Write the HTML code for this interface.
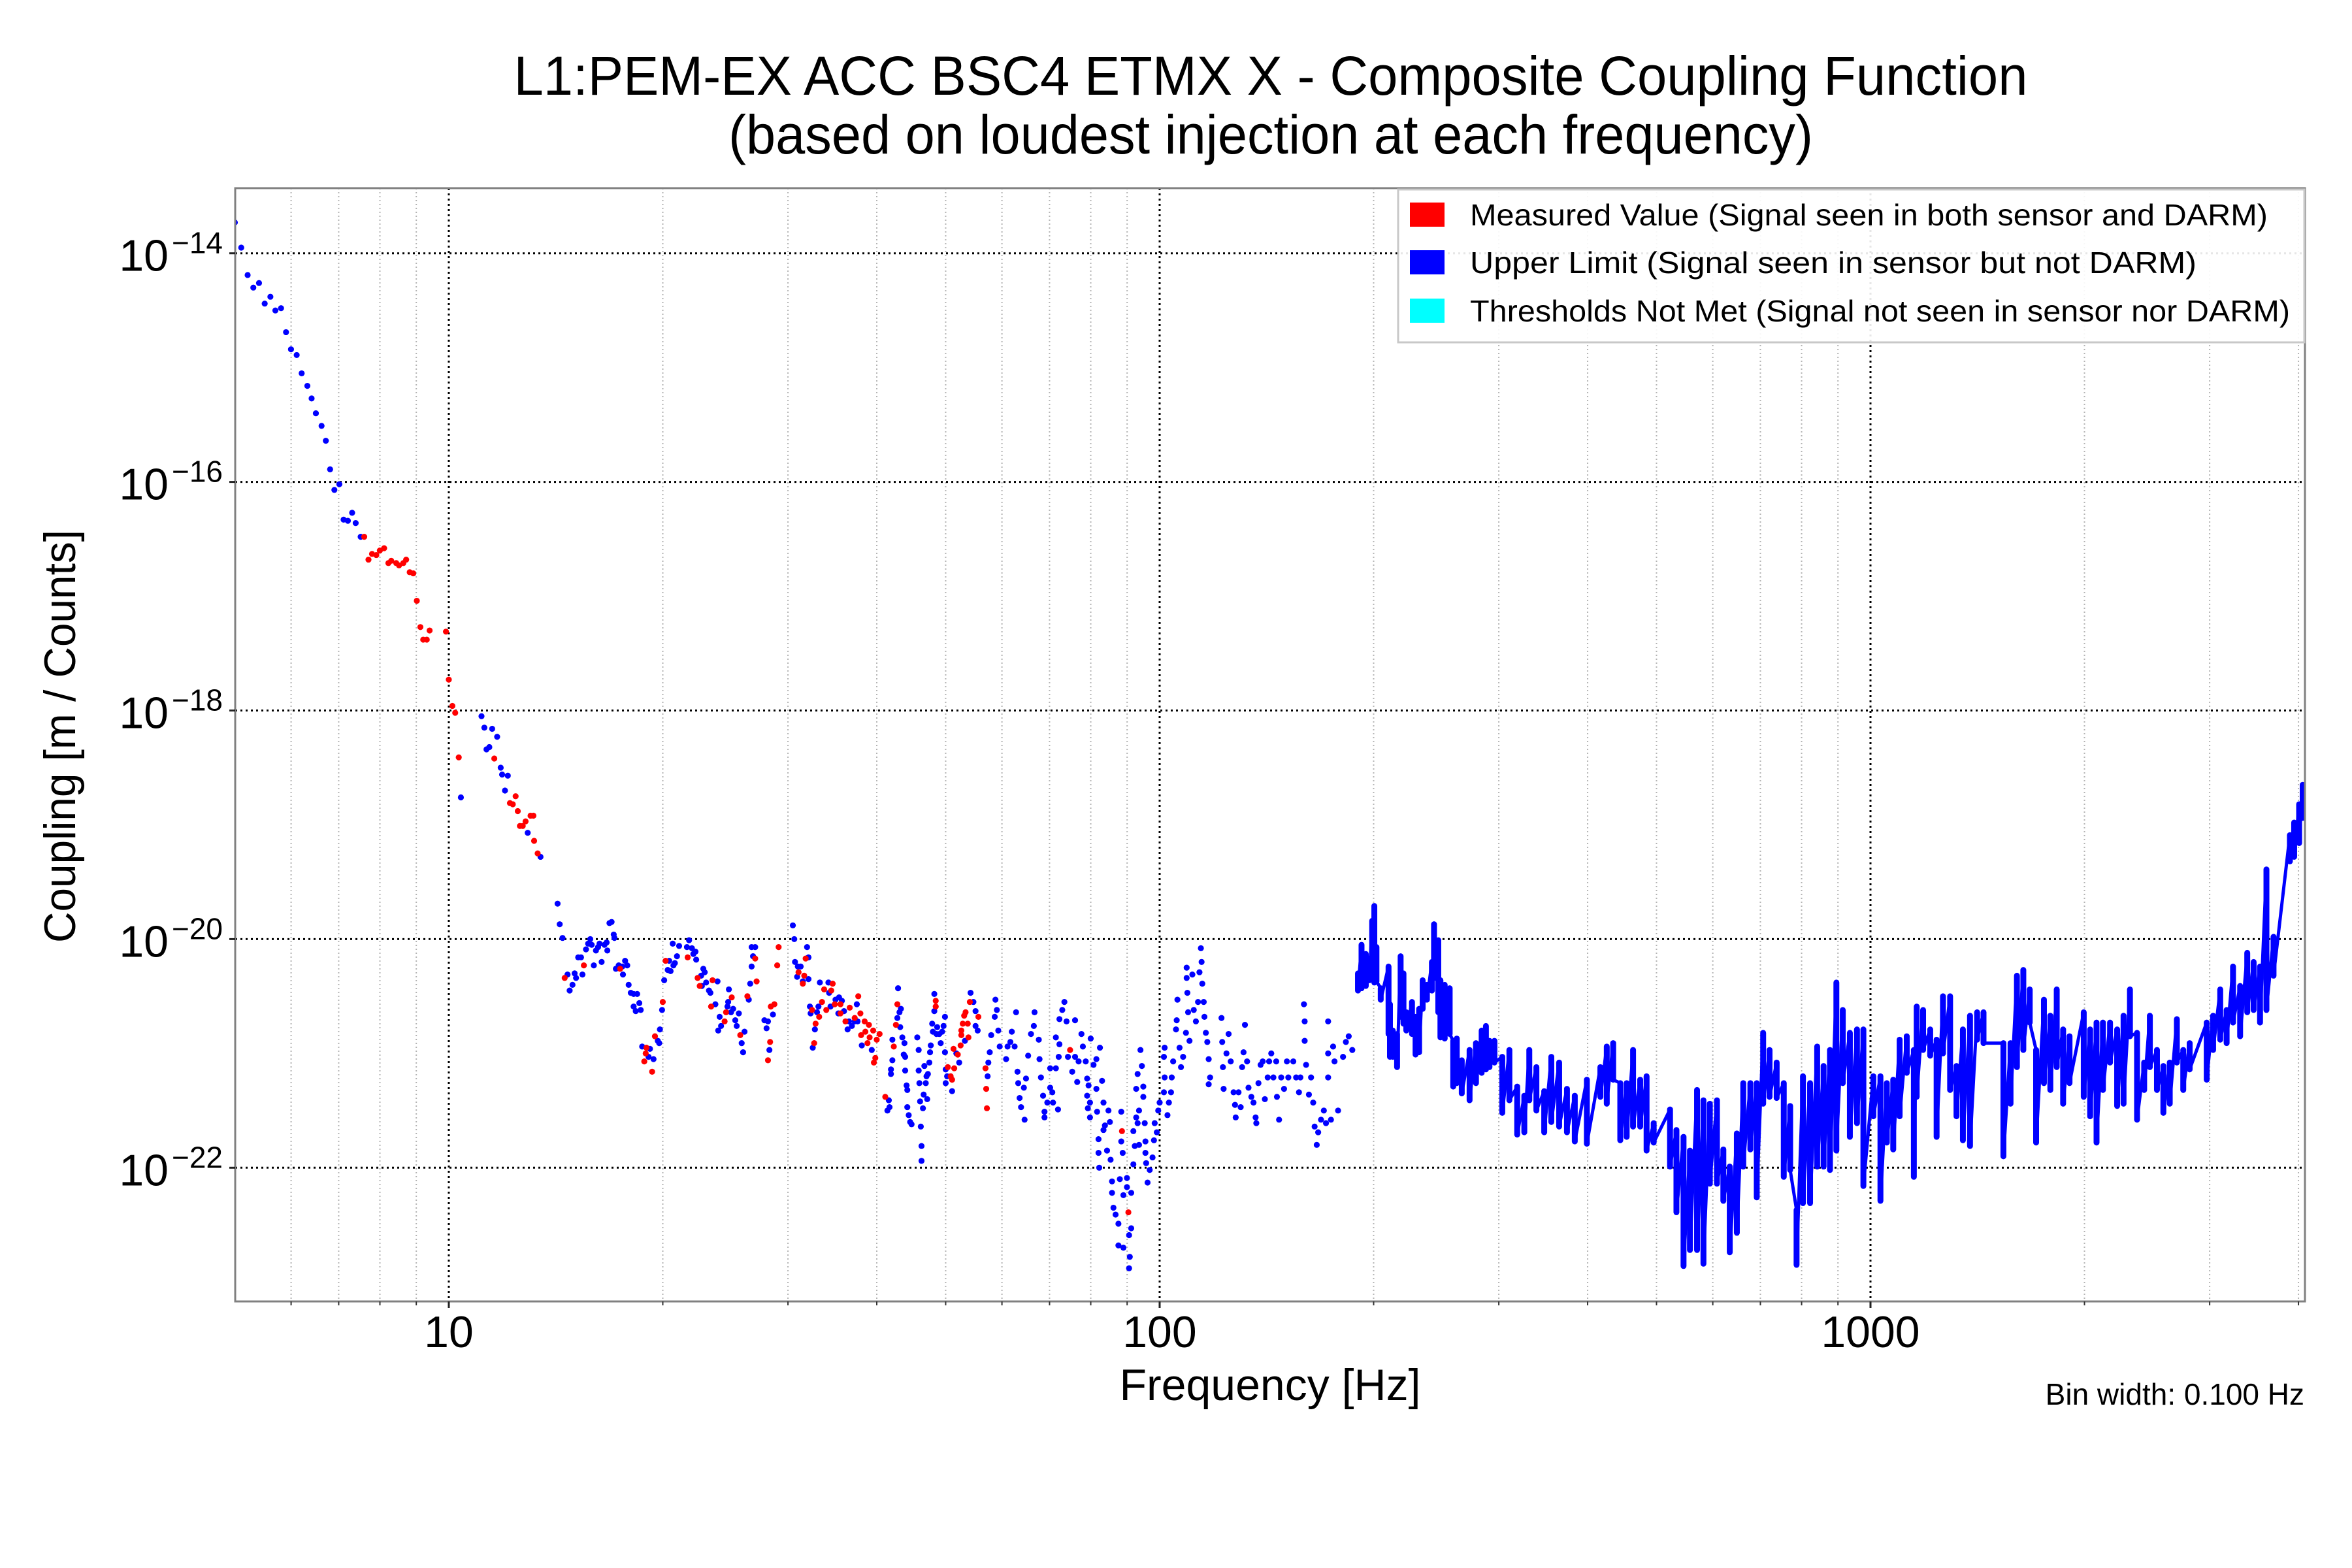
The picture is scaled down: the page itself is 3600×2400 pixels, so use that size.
<!DOCTYPE html>
<html><head><meta charset="utf-8"><style>
html,body{margin:0;padding:0;background:#fff;}
svg{display:block;font-family:"Liberation Sans",Arial,sans-serif;}
</style></head><body>
<svg id="chart" width="3600" height="2400" viewBox="0 0 3600 2400" xmlns="http://www.w3.org/2000/svg">
<rect x="0" y="0" width="3600" height="2400" fill="#fff"/>
<text x="1945" y="145" font-size="84" text-anchor="middle" textLength="2317" lengthAdjust="spacingAndGlyphs">L1:PEM-EX ACC BSC4 ETMX X - Composite Coupling Function</text>
<text x="1945" y="235" font-size="84" text-anchor="middle" textLength="1660" lengthAdjust="spacingAndGlyphs">(based on loudest injection at each frequency)</text>
<defs><clipPath id="plotclip"><rect x="360" y="288" width="3168" height="1704"/></clipPath></defs>
<g id="grid"></g>
<g id="marks" clip-path="url(#plotclip)"></g>
<rect x="360" y="288" width="3168" height="1704" fill="none" stroke="#808080" stroke-width="3"/>
<g id="ticks"></g>
<text transform="translate(115,1127) rotate(-90)" font-size="68" text-anchor="middle" textLength="632" lengthAdjust="spacingAndGlyphs">Coupling [m / Counts]</text>
<text x="1944" y="2143" font-size="68" text-anchor="middle">Frequency [Hz]</text>
<text x="3527" y="2150" font-size="46" text-anchor="end">Bin width: 0.100 Hz</text>
<g>
<rect x="2140" y="290" width="1387" height="234" fill="#fff" fill-opacity="0.9" stroke="#c8c8c8" stroke-width="3"/>
<rect x="2158" y="310" width="53" height="37" fill="#ff0000"/>
<text x="2250" y="345" font-size="46" textLength="1221" lengthAdjust="spacingAndGlyphs">Measured Value (Signal seen in both sensor and DARM)</text>
<rect x="2158" y="383" width="53" height="37" fill="#0000ff"/>
<text x="2250" y="418" font-size="46" textLength="1112" lengthAdjust="spacingAndGlyphs">Upper Limit (Signal seen in sensor but not DARM)</text>
<rect x="2158" y="457" width="53" height="37" fill="#00ffff"/>
<text x="2250" y="492" font-size="46" textLength="1255" lengthAdjust="spacingAndGlyphs">Thresholds Not Met (Signal not seen in sensor nor DARM)</text>
</g>
</svg>
<script>
// ---- data (log10 frequency [Hz], log10 coupling [m/Counts]) ----
const xTickValues = [1, 2, 3];
const xTickLabels = ["10", "100", "1000"];
const yTickValues = [-14, -16, -18, -20, -22];
const yTickLabels = ["\u221214", "\u221216", "\u221218", "\u221220", "\u221222"];
const xDomainLog = [0.6995, 3.6112];
const yDomainLog = [-13.43, -23.17];

const measuredPoints = [
[0.881,-16.48],[0.887,-16.68],[0.892,-16.63],[0.898,-16.64],[0.903,-16.60],[0.909,-16.58],[0.915,-16.71],[0.919,-16.69],[0.926,-16.71],[0.930,-16.73],[0.936,-16.71],[0.940,-16.68],[0.945,-16.79],[0.950,-16.80],[0.955,-17.04],[0.960,-17.27],[0.964,-17.38],[0.969,-17.38],[0.973,-17.30],[0.996,-17.31],[1.000,-17.73],[1.005,-17.96],[1.009,-18.02],[1.014,-18.41],[1.064,-18.42],[1.094,-18.75],[1.086,-18.81],[1.090,-18.82],[1.097,-18.88],[1.100,-19.01],[1.104,-19.01],[1.108,-18.97],[1.115,-18.92],[1.119,-18.92],[1.120,-19.14],[1.125,-19.25],
[1.163,-20.34],[1.190,-20.23],[1.241,-20.26],[1.278,-20.95],[1.277,-21.00],[1.275,-21.07],[1.286,-21.16],[1.290,-20.85],[1.301,-20.55],[1.305,-20.19],[1.336,-20.16],[1.350,-20.34],[1.353,-20.41],[1.369,-20.59],[1.371,-20.36],[1.388,-20.72],[1.390,-20.64],[1.398,-20.51],[1.410,-20.84],[1.420,-20.50],[1.431,-20.17],[1.433,-20.37],[1.452,-20.90],[1.449,-21.06],[1.453,-20.59],[1.458,-20.57],[1.462,-20.23],[1.464,-20.07],[1.492,-20.29],[1.498,-20.39],[1.500,-20.32],[1.502,-20.17],[1.511,-20.62],[1.516,-20.74],[1.514,-20.91],[1.521,-20.68],[1.525,-20.55],[1.528,-20.44],[1.540,-20.39],[1.538,-20.45],[1.531,-20.62],[1.543,-20.57],[1.551,-20.57],[1.551,-20.65],[1.558,-20.72],[1.564,-20.60],[1.571,-20.69],[1.576,-20.50],[1.579,-20.65],[1.585,-20.72],[1.586,-20.81],[1.580,-20.84],[1.591,-20.75],[1.592,-20.86],[1.589,-20.91],[1.597,-20.80],[1.600,-21.04],[1.598,-21.08],[1.602,-20.88],[1.606,-20.83],[1.614,-21.38],[1.626,-20.94],[1.629,-20.75],[1.631,-20.57],[1.685,-20.54],[1.685,-20.59],[1.702,-21.12],[1.706,-21.20],[1.708,-21.23],[1.710,-20.96],[1.711,-21.13],[1.716,-21.01],[1.720,-20.93],[1.721,-20.84],[1.721,-20.80],[1.723,-20.74],[1.725,-20.67],[1.727,-20.64],[1.730,-20.74],[1.731,-20.86],[1.733,-20.55],[1.745,-20.68],[1.755,-21.13],[1.756,-21.31],[1.757,-21.48],[1.874,-20.97],[1.947,-21.68],[1.956,-22.39]
];

const upperLimitPoints = [
[0.699,-13.73],[0.708,-13.95],[0.717,-14.19],[0.725,-14.30],[0.733,-14.26],[0.741,-14.44],[0.749,-14.38],[0.756,-14.50],[0.764,-14.48],[0.771,-14.69],[0.778,-14.84],[0.786,-14.89],[0.793,-15.05],[0.801,-15.16],[0.807,-15.27],[0.813,-15.40],[0.821,-15.51],[0.827,-15.64],[0.833,-15.89],[0.839,-16.07],[0.846,-16.02],[0.852,-16.33],[0.858,-16.34],[0.864,-16.27],[0.869,-16.36],[0.876,-16.48],
[1.017,-18.76],[1.046,-18.05],[1.050,-18.15],[1.061,-18.16],[1.053,-18.34],[1.057,-18.32],[1.068,-18.23],[1.073,-18.50],[1.075,-18.56],[1.083,-18.57],[1.079,-18.70],[1.111,-19.07],[1.129,-19.28],[1.153,-19.69],[1.156,-19.87],[1.160,-19.99],
[1.167,-20.31],[1.170,-20.45],[1.174,-20.40],[1.177,-20.30],[1.179,-20.34],[1.182,-20.16],[1.186,-20.16],[1.188,-20.31],[1.193,-20.09],[1.196,-20.04],[1.199,-20.00],[1.201,-20.05],[1.204,-20.23],[1.207,-20.10],[1.210,-20.07],[1.212,-20.04],[1.215,-20.20],[1.219,-20.05],[1.222,-20.03],[1.223,-20.10],[1.226,-19.86],[1.229,-19.85],[1.232,-19.96],[1.233,-19.99],[1.235,-20.26],[1.239,-20.23],[1.244,-20.24],[1.245,-20.31],[1.248,-20.19],[1.251,-20.23],[1.253,-20.40],[1.256,-20.47],[1.260,-20.48],[1.265,-20.48],[1.268,-20.56],[1.260,-20.59],[1.263,-20.63],[1.270,-20.62],[1.272,-20.94],[1.281,-21.03],[1.283,-20.96],[1.288,-21.05],[1.294,-20.89],[1.296,-20.91],[1.297,-20.79],[1.300,-20.62],[1.303,-20.36],[1.308,-20.27],[1.312,-20.28],[1.310,-20.19],[1.315,-20.04],[1.316,-20.23],[1.318,-20.21],[1.321,-20.15],[1.324,-20.06],[1.335,-20.07],[1.338,-20.01],[1.342,-20.08],[1.344,-20.13],[1.347,-20.11],[1.348,-20.18],[1.355,-20.32],[1.356,-20.41],[1.358,-20.26],[1.360,-20.29],[1.362,-20.38],[1.366,-20.45],[1.368,-20.47],[1.375,-20.57],[1.378,-20.37],[1.381,-20.68],[1.383,-20.76],[1.379,-20.80],[1.392,-20.59],[1.393,-20.55],[1.394,-20.44],[1.397,-20.64],[1.400,-20.61],[1.403,-20.71],[1.405,-20.76],[1.408,-20.65],[1.412,-20.91],[1.414,-20.99],[1.416,-20.81],[1.422,-20.53],[1.424,-20.39],[1.426,-20.24],[1.426,-20.07],[1.431,-20.07],[1.428,-20.15],[1.444,-20.71],[1.447,-20.78],[1.449,-20.72],[1.451,-20.97],[1.456,-20.66],
[1.484,-19.88],[1.486,-20.00],[1.487,-20.20],[1.490,-20.33],[1.491,-20.24],[1.495,-20.24],[1.498,-20.37],[1.504,-20.07],[1.506,-20.16],[1.506,-20.35],[1.508,-20.59],[1.509,-20.65],[1.515,-20.79],[1.512,-20.95],[1.518,-20.64],[1.520,-20.59],[1.522,-20.38],[1.534,-20.38],[1.535,-20.47],[1.537,-20.59],[1.544,-20.53],[1.549,-20.51],[1.553,-20.54],[1.548,-20.65],[1.556,-20.63],[1.561,-20.79],[1.563,-20.72],[1.567,-20.76],[1.571,-20.72],[1.574,-20.57],[1.575,-20.72],[1.581,-20.93],[1.595,-20.97],[1.619,-21.41],[1.617,-21.50],[1.620,-21.47],[1.622,-21.14],[1.622,-21.18],[1.624,-20.88],[1.624,-21.06],[1.631,-20.69],[1.632,-20.43],[1.634,-20.64],[1.636,-20.61],[1.635,-20.77],[1.638,-20.86],[1.641,-20.91],[1.640,-21.01],[1.642,-21.03],[1.642,-21.15],[1.644,-21.28],[1.645,-21.32],[1.645,-21.47],[1.647,-21.54],[1.649,-21.60],[1.651,-21.62],[1.659,-20.86],[1.661,-20.97],[1.661,-21.15],[1.662,-21.26],[1.663,-21.42],[1.664,-21.64],[1.665,-21.81],[1.665,-21.94],[1.667,-21.48],[1.668,-21.36],[1.669,-21.11],[1.671,-21.26],[1.672,-21.20],[1.673,-21.40],[1.674,-21.18],[1.676,-21.08],[1.677,-20.99],[1.678,-20.93],[1.680,-20.74],[1.681,-20.81],[1.683,-20.63],[1.683,-20.48],[1.686,-20.83],[1.687,-20.77],[1.690,-20.83],[1.692,-20.91],[1.694,-20.81],[1.696,-20.76],[1.698,-20.68],[1.698,-20.99],[1.699,-21.14],[1.699,-21.26],[1.701,-21.20],[1.708,-21.33],[1.714,-21.00],[1.718,-21.08],[1.726,-20.89],[1.734,-20.47],[1.738,-20.55],[1.741,-20.63],[1.741,-20.76],[1.744,-20.80],
[1.769,-20.53],[1.771,-20.62],[1.768,-20.68],[1.773,-20.80],[1.775,-20.94],[1.763,-20.84],[1.761,-20.99],[1.759,-21.08],[1.758,-21.20],[1.786,-20.94],[1.784,-21.05],[1.790,-20.90],[1.792,-20.81],[1.796,-20.94],[1.798,-20.64],[1.800,-21.16],[1.801,-21.26],[1.803,-21.39],[1.805,-21.47],[1.810,-21.58],[1.809,-21.30],[1.812,-21.22],[1.815,-21.02],[1.819,-20.83],[1.824,-20.64],[1.823,-20.76],[1.830,-20.88],[1.831,-21.05],[1.833,-21.21],[1.836,-21.37],[1.838,-21.51],[1.838,-21.56],[1.842,-21.43],[1.846,-21.13],[1.846,-21.30],[1.849,-21.34],[1.850,-21.43],[1.854,-21.13],[1.858,-21.03],[1.857,-21.49],[1.859,-20.92],[1.854,-20.86],[1.859,-20.70],[1.863,-20.62],[1.866,-20.55],[1.869,-20.72],[1.871,-21.03],[1.877,-21.16],[1.881,-21.03],[1.881,-20.71],[1.884,-21.25],[1.886,-21.07],[1.890,-20.83],[1.892,-20.94],[1.896,-21.07],[1.898,-21.22],[1.900,-21.28],[1.898,-21.37],[1.902,-21.43],[1.899,-21.48],[1.902,-21.56],[1.903,-20.87],[1.907,-21.10],[1.911,-21.05],[1.911,-21.31],[1.916,-20.95],[1.919,-21.24],[1.921,-21.43],[1.912,-21.51],[1.923,-21.63],[1.914,-21.75],[1.914,-21.87],[1.915,-22.00],[1.921,-21.67],[1.928,-21.50],[1.930,-21.60],[1.926,-21.85],[1.931,-21.93],[1.933,-22.12],[1.933,-22.22],[1.935,-22.35],[1.938,-22.41],[1.942,-22.49],[1.942,-22.68],[1.946,-21.51],[1.946,-21.77],[1.948,-21.87],[1.944,-22.10],[1.949,-22.24],[1.949,-22.70],[1.954,-22.09],[1.954,-22.17],[1.957,-22.59],[1.958,-22.78],[1.957,-22.88],[1.960,-22.53],[1.960,-22.22],[1.963,-21.97],[1.965,-21.81],[1.963,-21.68],[1.967,-21.56],[1.971,-21.50],[1.969,-21.61],[1.971,-21.80],[1.967,-21.31],[1.969,-21.18],[1.973,-20.97],[1.975,-21.11],[1.977,-21.29],[1.977,-21.38],[1.979,-21.61],[1.980,-21.77],[1.980,-21.87],[1.981,-21.96],[1.983,-22.13],[1.986,-22.02],[1.990,-21.91],[1.992,-21.76],[1.993,-21.61],[1.996,-21.69],[1.998,-21.50],[2.000,-21.43],[2.006,-21.34],[2.007,-21.21],[2.006,-21.03],[2.007,-20.95],[2.013,-21.43],[2.011,-21.54],[2.016,-21.34],[2.017,-21.21],[2.019,-21.07],[2.023,-20.79],[2.025,-20.53],[2.024,-20.71],[2.028,-20.95],[2.030,-21.12],[2.033,-21.03],[2.037,-20.82],[2.038,-20.25],[2.038,-20.34],[2.039,-20.47],[2.040,-20.64],[2.042,-20.89],[2.046,-20.31],[2.048,-20.62],[2.051,-20.72],[2.054,-20.55],[2.056,-20.29],[2.058,-20.08],[2.059,-20.20],[2.060,-20.39],[2.062,-20.55],[2.063,-20.68],[2.065,-20.82],[2.067,-20.90],[2.069,-21.05],[2.071,-21.21],[2.069,-21.27],[2.087,-20.69],[2.088,-20.90],[2.089,-21.12],[2.090,-21.31],[2.094,-21.00],[2.097,-20.83],[2.100,-21.07],[2.104,-21.34],[2.106,-21.45],[2.107,-21.56],[2.111,-21.34],[2.114,-21.47],[2.116,-21.12],[2.118,-20.99],[2.120,-20.75],[2.123,-21.07],[2.125,-21.30],[2.129,-21.38],[2.132,-21.43],[2.135,-21.56],[2.136,-21.61],[2.139,-21.26],[2.142,-21.10],[2.145,-21.07],[2.148,-21.40],[2.152,-21.21],[2.154,-21.07],[2.157,-21.00],[2.160,-21.21],[2.164,-21.07],[2.165,-21.38],[2.168,-21.58],[2.171,-21.21],[2.175,-21.31],[2.179,-21.07],[2.181,-21.21],[2.188,-21.07],[2.192,-21.21],[2.196,-21.34],[2.198,-21.21],[2.203,-20.57],[2.204,-20.72],[2.204,-20.89],[2.206,-21.10],[2.210,-21.36],[2.213,-21.21],[2.216,-21.43],[2.218,-21.64],[2.221,-21.80],[2.223,-21.69],[2.227,-21.58],[2.231,-21.50],[2.234,-21.61],[2.237,-21.00],[2.237,-21.21],[2.237,-20.72],[2.241,-21.58],[2.244,-20.94],[2.246,-21.07],[2.251,-21.50],[2.258,-21.03],[2.262,-20.90],[2.266,-20.85],[2.271,-20.97]
];

// dense upper-limit region: [log10 freq, log10 top, log10 bottom] per frequency column
const upperLimitColumns = [
[2.279,-20.30,-20.45],[2.284,-20.05,-20.43],[2.290,-20.13,-20.41],[2.295,-20.17,-20.36],[2.299,-19.84,-20.17],[2.302,-19.71,-20.38],[2.305,-20.07,-20.37],[2.311,-20.43,-20.53],[2.322,-20.24,-20.83],[2.324,-20.57,-21.03],[2.328,-20.80,-21.03],[2.334,-20.83,-21.12],[2.339,-20.15,-20.68],[2.343,-20.30,-20.74],[2.347,-20.64,-20.80],[2.355,-20.55,-20.83],[2.360,-20.68,-21.01],[2.365,-20.61,-20.99],[2.370,-20.36,-20.61],[2.376,-20.40,-20.53],[2.383,-20.20,-20.45],[2.386,-19.87,-20.34],[2.392,-20.01,-20.64],[2.395,-20.36,-20.86],[2.401,-20.40,-20.87],[2.408,-20.43,-20.83],[2.413,-20.89,-21.29],[2.418,-20.87,-21.26],[2.425,-21.06,-21.35],[2.436,-20.97,-21.41],[2.445,-20.91,-21.26],[2.453,-20.80,-21.17],[2.459,-20.76,-21.14],[2.464,-20.89,-21.12],[2.471,-20.89,-21.08],[2.482,-21.03,-21.52],[2.492,-20.97,-21.41],[2.503,-21.29,-21.71],[2.513,-21.37,-21.69],[2.520,-20.97,-21.41],[2.530,-21.12,-21.50],[2.541,-21.33,-21.69],[2.551,-21.03,-21.60],[2.562,-21.08,-21.64],[2.573,-21.31,-21.69],[2.584,-21.37,-21.77],[2.601,-21.23,-21.79],
[2.620,-21.12,-21.38],[2.629,-20.94,-21.44],[2.638,-20.91,-21.23],[2.648,-21.26,-21.76],[2.657,-21.26,-21.73],[2.666,-20.97,-21.64],[2.676,-21.23,-21.64],[2.685,-21.20,-21.85],[2.695,-21.61,-21.78],[2.718,-21.49,-21.99],[2.727,-21.67,-22.39],[2.737,-21.73,-22.86],[2.746,-21.85,-22.72],[2.756,-21.32,-22.72],[2.765,-21.41,-22.84],[2.774,-21.44,-22.14],[2.784,-21.41,-22.14],[2.793,-21.84,-22.29],[2.802,-21.99,-22.74],[2.812,-21.70,-22.57],[2.821,-21.26,-21.99],[2.831,-21.26,-21.84],[2.840,-21.26,-22.26],[2.849,-20.82,-21.44],[2.858,-20.97,-21.38],[2.868,-21.08,-21.39],[2.878,-21.26,-22.08],[2.887,-21.46,-22.02],[2.896,-22.37,-22.85],[2.905,-21.20,-22.31],[2.915,-21.26,-22.31],[2.925,-20.94,-21.99],[2.934,-21.11,-21.99],[2.943,-20.97,-22.02],[2.952,-20.38,-21.85],[2.961,-20.62,-21.26],[2.971,-20.82,-21.73],[2.981,-20.79,-21.61],[2.990,-20.79,-22.16],[3.004,-21.20,-21.55],[3.014,-21.20,-22.29],[3.023,-21.26,-21.78],[3.032,-21.23,-21.84],[3.041,-20.88,-21.55],[3.051,-20.85,-21.17],[3.061,-20.97,-22.08],[3.065,-20.59,-21.38],[3.074,-20.62,-20.97],[3.084,-20.79,-21.02],[3.093,-20.88,-21.73],[3.102,-20.50,-21.00],[3.112,-20.50,-21.32],[3.121,-21.11,-21.55],[3.130,-20.79,-21.76],[3.140,-20.67,-21.81],[3.150,-20.64,-20.88],[3.159,-20.64,-20.91],[3.187,-20.91,-21.90],[3.197,-20.91,-21.44],[3.206,-20.32,-21.12],[3.215,-20.27,-20.97],[3.224,-20.44,-20.73],[3.233,-20.97,-21.78],[3.244,-20.53,-21.26],[3.253,-20.67,-21.32],[3.262,-20.44,-21.12],[3.271,-20.79,-21.44],[3.280,-20.85,-21.26],[3.300,-20.64,-21.38],[3.309,-20.79,-21.55],[3.318,-20.73,-21.78],[3.327,-20.73,-21.32],[3.337,-20.73,-21.08],[3.347,-20.79,-21.46],[3.356,-20.67,-21.44],[3.365,-20.44,-20.85],[3.375,-20.82,-21.58],[3.385,-21.08,-21.32],[3.393,-20.67,-21.12],[3.403,-20.97,-21.32],[3.412,-21.11,-21.52],[3.421,-21.08,-21.44],[3.431,-20.70,-21.08],[3.440,-20.97,-21.32],[3.449,-20.91,-21.14],[3.473,-20.73,-21.23],[3.482,-20.67,-20.97],[3.492,-20.44,-20.88],[3.501,-20.62,-20.91],[3.510,-20.24,-20.73],[3.520,-20.41,-20.85],[3.530,-20.12,-20.64],[3.539,-20.20,-20.62],[3.548,-20.24,-20.73],[3.557,-19.39,-20.62],[3.567,-19.98,-20.32],[3.590,-19.09,-19.32],[3.596,-18.98,-19.28],[3.603,-18.82,-19.16],[3.608,-18.65,-18.94]
];
</script>
<script>
const NS = "http://www.w3.org/2000/svg";
const PX = {x0: 360, x1: 3528, y0: 288, y1: 1992};
function xScale(lf) { return PX.x0 + (lf - xDomainLog[0]) / (xDomainLog[1] - xDomainLog[0]) * (PX.x1 - PX.x0); }
function yScale(lc) { return PX.y0 + (lc - yDomainLog[0]) / (yDomainLog[1] - yDomainLog[0]) * (PX.y1 - PX.y0); }
function mk(tag, attrs, parent) {
  const el = document.createElementNS(NS, tag);
  for (const k in attrs) el.setAttribute(k, attrs[k]);
  parent.appendChild(el);
  return el;
}
const grid = document.getElementById('grid');
const marks = document.getElementById('marks');
const ticks = document.getElementById('ticks');

for (let d = 0; d <= 3; d++) {
  for (let m = 2; m <= 9; m++) {
    const lf = d + Math.log10(m);
    if (lf < xDomainLog[0] - 1e-6 || lf > xDomainLog[1]) continue;
    const x = xScale(lf);
    const g = mk('line', {x1: x, x2: x, y1: PX.y0, y2: PX.y1, stroke: '#b4b4b4', 'stroke-width': 2, 'stroke-dasharray': '2 4'}, grid);
    
    
    const t = mk('line', {x1: x, x2: x, y1: PX.y1, y2: PX.y1 + 6, stroke: '#333', 'stroke-width': 2}, ticks);
    
    
  }
}
xTickValues.forEach((v, i) => {
  const x = xScale(v);
  const g = mk('line', {x1: x, x2: x, y1: PX.y0, y2: PX.y1, stroke: '#000', 'stroke-width': 3, 'stroke-dasharray': '3 5'}, grid);
  
  
  const t = mk('line', {x1: x, x2: x, y1: PX.y1, y2: PX.y1 + 10, stroke: '#222', 'stroke-width': 3}, ticks);
  
  
  const lab = mk('text', {x: x, y: 2062, 'font-size': 68, 'text-anchor': 'middle'}, ticks);
  lab.textContent = xTickLabels[i];
  
  
});
yTickValues.forEach((v, i) => {
  const y = yScale(v);
  const g = mk('line', {x1: PX.x0, x2: PX.x1, y1: y, y2: y, stroke: '#000', 'stroke-width': 3, 'stroke-dasharray': '3 5'}, grid);
  
  
  const t = mk('line', {x1: PX.x0 - 9, x2: PX.x0, y1: y, y2: y, stroke: '#222', 'stroke-width': 3}, ticks);
  
  
  const base = mk('text', {x: 258, y: y + 27, 'font-size': 68, 'text-anchor': 'end'}, ticks);
  base.textContent = '10';
  
  
  const sup = mk('text', {x: 341, y: y, 'font-size': 46, 'text-anchor': 'end'}, ticks);
  sup.textContent = yTickLabels[i];
  
  
});

// dense upper-limit band: zigzag through column tops/bottoms plus columns
let d = '';
upperLimitColumns.forEach((c, i) => {
  const x = xScale(c[0]);
  d += (i === 0 ? 'M' : 'L') + x.toFixed(1) + ' ' + yScale(c[1]).toFixed(1) + ' L' + x.toFixed(1) + ' ' + yScale(c[2]).toFixed(1) + ' ';
});
const band = mk('path', {d: d, fill: 'none', stroke: '#0000ff', 'stroke-width': 5, 'stroke-linejoin': 'round'}, marks);


upperLimitColumns.forEach(c => {
  const x = xScale(c[0]);
  const col = mk('line', {x1: x, x2: x, y1: yScale(c[1]), y2: yScale(c[2]), stroke: '#0000ff', 'stroke-width': 9, 'stroke-linecap': 'round'}, marks);
  
  
});
upperLimitPoints.forEach(p => {
  const c = mk('circle', {cx: xScale(p[0]), cy: yScale(p[1]), r: 4.6, fill: '#0000ff'}, marks);
  
  
});
measuredPoints.forEach(p => {
  const c = mk('circle', {cx: xScale(p[0]), cy: yScale(p[1]), r: 4.6, fill: '#ff0000'}, marks);
  
  
});
</script>
</body></html>
